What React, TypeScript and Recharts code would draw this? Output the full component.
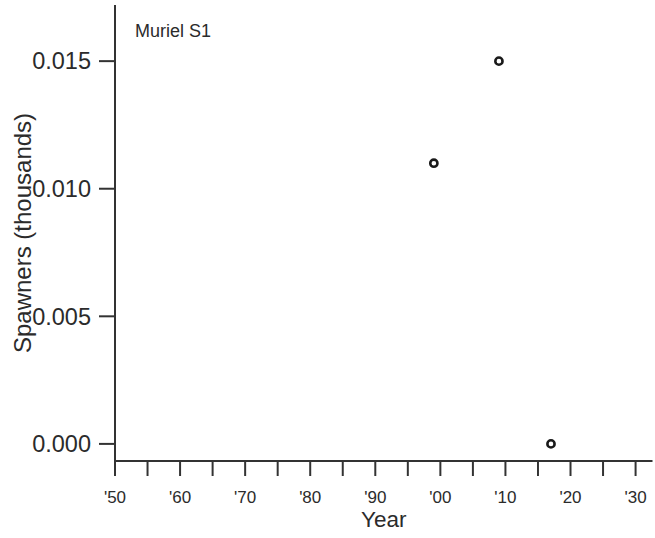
import { ScatterChart, Scatter, XAxis, YAxis, Label } from "recharts";

const years = [1999, 2009, 2017];
const spawners = [0.011, 0.015, 0.0];

const xTicks = [1950, 1955, 1960, 1965, 1970, 1975, 1980, 1985, 1990, 1995, 2000, 2005, 2010, 2015, 2020, 2025, 2030];
const yTicks = [0, 0.005, 0.01, 0.015];

const FONT = '"Liberation Sans", Arial, Helvetica, sans-serif';
const INK = "#2b2b2b";

const data = years.map((year, i) => ({ year, value: spawners[i] }));

const yearLabel = (v: number) => (v % 10 === 0 ? "'" + String(v % 100).padStart(2, "0") : "");

function OpenDot(props: any) {
  const { cx, cy } = props;
  if (cx == null || cy == null) return null;
  return <circle cx={cx} cy={cy} r={3.6} fill="#fff" stroke="#1a1a1a" strokeWidth={2.6} />;
}

function YTitle(props: any) {
  const { viewBox } = props;
  const x = viewBox.x + 22;
  const y = viewBox.y + viewBox.height / 2;
  return (
    <text
      x={x}
      y={y}
      transform={`rotate(-90 ${x} ${y})`}
      textAnchor="middle"
      dominantBaseline="central"
      fontSize={24}
      fontFamily={FONT}
      fill={INK}
    >
      Spawners (thousands)
    </text>
  );
}

export default function App() {
  return (
    <div style={{ position: "absolute", left: 0, top: 0, background: "#fff" }}>
      <ScatterChart width={655} height={538} margin={{ top: 5, right: 2.5, bottom: 0, left: 0 }}>
        <XAxis
          type="number"
          dataKey="year"
          domain={[1950, 2032.6]}
          ticks={xTicks}
          interval={0}
          allowDataOverflow
          tickFormatter={yearLabel}
          height={77}
          tickSize={15}
          tickMargin={15}
          axisLine={{ stroke: "#333", strokeWidth: 2 }}
          tickLine={{ stroke: "#333", strokeWidth: 2 }}
          tick={{ fontSize: 17, fill: INK, fontFamily: FONT }}
        >
          <Label
            value="Year"
            position="insideBottom"
            offset={11}
            style={{ fontSize: 22.5, fill: INK, fontFamily: FONT }}
          />
        </XAxis>
        <YAxis
          type="number"
          dataKey="value"
          domain={[-0.00067, 0.0172]}
          ticks={yTicks}
          interval={0}
          allowDataOverflow
          tickFormatter={(v: number) => v.toFixed(3)}
          width={115}
          tickSize={16}
          tickMargin={8}
          axisLine={{ stroke: "#333", strokeWidth: 2 }}
          tickLine={{ stroke: "#333", strokeWidth: 2 }}
          tick={{ fontSize: 23.5, fill: INK, fontFamily: FONT }}
          label={<YTitle />}
        />
        <XAxis
          xAxisId="top"
          orientation="top"
          height={0}
          tick={false}
          tickLine={false}
          axisLine={{ stroke: "#7a7a7a", strokeWidth: 3 }}
        />
        <YAxis
          yAxisId="right"
          orientation="right"
          width={0}
          tick={false}
          tickLine={false}
          axisLine={{ stroke: "#a8a8a8", strokeWidth: 2 }}
        />
        <Scatter data={data} shape={<OpenDot />} isAnimationActive={false} />
        <text x={135} y={37} fontSize={18} fontFamily={FONT} fill={INK}>
          Muriel S1
        </text>
      </ScatterChart>
    </div>
  );
}
